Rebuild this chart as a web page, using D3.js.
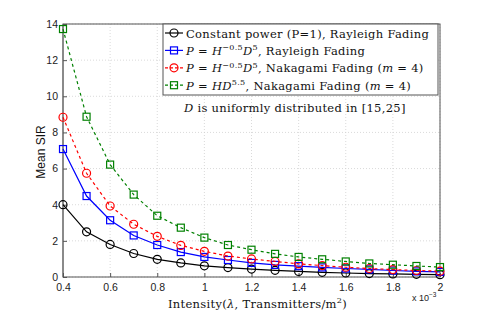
<!DOCTYPE html>
<html>
<head>
<meta charset="utf-8">
<script src="https://cdn.jsdelivr.net/npm/d3@7"></script>
<style>
  body { margin: 0; background: #fff; }
  svg { display: block; }
</style>
</head>
<body>
<div id="chart"></div>
<script>
(function() {

  // intensity values (x 10^-3)
  const intensity = [0.4, 0.5, 0.6, 0.7, 0.8, 0.9, 1.0, 1.1, 1.2, 1.3, 1.4, 1.5, 1.6, 1.7, 1.8, 1.9, 2.0];

  const constPower = [4.0, 2.5, 1.8, 1.3, 0.98, 0.78, 0.62, 0.52, 0.44, 0.37, 0.31, 0.26, 0.22, 0.19, 0.17, 0.15, 0.13];
  const rayleighH = [7.08, 4.48, 3.14, 2.3, 1.77, 1.38, 1.11, 0.94, 0.78, 0.67, 0.6, 0.53, 0.47, 0.42, 0.36, 0.31, 0.28];
  const nakagamiH = [8.84, 5.74, 3.93, 2.92, 2.25, 1.75, 1.42, 1.16, 1.0, 0.86, 0.73, 0.63, 0.54, 0.47, 0.41, 0.36, 0.32];
  const nakagamiHD = [13.72, 8.87, 6.22, 4.56, 3.39, 2.73, 2.18, 1.77, 1.51, 1.28, 1.11, 0.98, 0.86, 0.75, 0.68, 0.61, 0.55];

  const xTicks = [0.4, 0.6, 0.8, 1, 1.2, 1.4, 1.6, 1.8, 2];
  const yTicks = [0, 2, 4, 6, 8, 10, 12, 14];

  const series = [
    { name: 'const', values: constPower, color: '#000000', dash: null, marker: 'circle' },
    { name: 'rayH', values: rayleighH, color: '#0000ff', dash: null, marker: 'square' },
    { name: 'nakH', values: nakagamiH, color: '#ff0000', dash: '3,3', marker: 'circle' },
    { name: 'nakHD', values: nakagamiHD, color: '#008000', dash: '3,3', marker: 'square' }
  ];

  const width = 485, height = 312;
  const plot = { left: 63, right: 440, top: 24, bottom: 277 };

  const svg = d3.select('#chart').append('svg')
    .attr('width', width)
    .attr('height', height);

  const xScale = d3.scaleLinear().domain([0.4, 2]).range([plot.left, plot.right]);
  const yScale = d3.scaleLinear().domain([0, 14]).range([plot.bottom, plot.top]);

  // grid
  const grid = svg.append('g');
  xTicks.forEach(t => {
    grid.append('line')
      .attr('x1', xScale(t)).attr('x2', xScale(t))
      .attr('y1', plot.top).attr('y2', plot.bottom)
      .attr('stroke', '#d0d0d0').attr('stroke-width', 0.8)
      .attr('stroke-dasharray', '1,2');
  });
  yTicks.forEach(t => {
    grid.append('line')
      .attr('x1', plot.left).attr('x2', plot.right)
      .attr('y1', yScale(t)).attr('y2', yScale(t))
      .attr('stroke', '#d0d0d0').attr('stroke-width', 0.8)
      .attr('stroke-dasharray', '1,2');
  });

  // frame
  svg.append('rect')
    .attr('x', plot.left).attr('y', plot.top)
    .attr('width', plot.right - plot.left).attr('height', plot.bottom - plot.top)
    .attr('fill', 'none').attr('stroke', '#555').attr('stroke-width', 1);
  svg.append('line')
    .attr('x1', plot.left).attr('x2', plot.left)
    .attr('y1', plot.top).attr('y2', plot.bottom)
    .attr('stroke', '#8a8a8a').attr('stroke-width', 2);

  // axes (ticks inside)
  const xAxis = svg.append('g')
    .attr('transform', `translate(0, ${plot.bottom})`)
    .call(d3.axisBottom(xScale).tickValues(xTicks).tickSize(-4).tickPadding(7)
      .tickFormat(d => d3.format('')(Math.round(d * 10) / 10)));
  const yAxis = svg.append('g')
    .attr('transform', `translate(${plot.left}, 0)`)
    .call(d3.axisLeft(yScale).tickValues(yTicks).tickSize(-4).tickPadding(5));
  [xAxis, yAxis].forEach(a => {
    a.select('.domain').remove();
    a.selectAll('.tick line').attr('stroke', '#555');
    a.selectAll('text')
      .attr('font-family', 'Liberation Sans, Arial, sans-serif')
      .attr('font-size', 10.5)
      .attr('fill', '#222');
  });

  // lines
  const line = d3.line()
    .x((d, i) => xScale(intensity[i]))
    .y(d => yScale(d));

  function drawMarker(g, kind, x, y, color) {
    if (kind === 'circle') {
      g.append('circle')
        .attr('cx', x).attr('cy', y).attr('r', 4)
        .attr('fill', 'none').attr('stroke', color).attr('stroke-width', 1.2);
    } else {
      g.append('rect')
        .attr('x', x - 3.5).attr('y', y - 3.5)
        .attr('width', 7).attr('height', 7)
        .attr('fill', 'none').attr('stroke', color).attr('stroke-width', 1.2);
    }
  }

  series.forEach(s => {
    const g = svg.append('g');
    g.append('path')
      .datum(s.values)
      .attr('d', line)
      .attr('fill', 'none')
      .attr('stroke', s.color)
      .attr('stroke-width', 1.2)
      .attr('stroke-dasharray', s.dash);
    s.values.forEach((v, i) => drawMarker(g, s.marker, xScale(intensity[i]), yScale(v), s.color));
  });

  // legend
  const legend = svg.append('g');
  legend.append('rect')
    .attr('x', 163).attr('y', plot.top)
    .attr('width', 275).attr('height', 71)
    .attr('fill', '#fff').attr('stroke', '#555').attr('stroke-width', 1);

  const legendRows = [
    [{ t: 'Constant power (P=1), Rayleigh Fading' }],
    [{ t: 'P', i: true }, { t: ' = ' }, { t: 'H', i: true }, { t: '−0.5', sup: true }, { t: 'D', i: true }, { t: '5', sup: true }, { t: ', Rayleigh Fading' }],
    [{ t: 'P', i: true }, { t: ' = ' }, { t: 'H', i: true }, { t: '−0.5', sup: true }, { t: 'D', i: true }, { t: '5', sup: true }, { t: ', Nakagami Fading (' }, { t: 'm', i: true }, { t: ' = 4)' }],
    [{ t: 'P', i: true }, { t: ' = ' }, { t: 'HD', i: true }, { t: '5.5', sup: true }, { t: ', Nakagami Fading (' }, { t: 'm', i: true }, { t: ' = 4)' }]
  ];

  function richText(parent, parts, x, y, size) {
    const text = parent.append('text')
      .attr('x', x).attr('y', y)
      .attr('font-family', 'DejaVu Serif, serif')
      .attr('font-size', size)
      .attr('letter-spacing', 0.3)
      .attr('fill', '#111');
    let prevSup = false;
    parts.forEach(p => {
      const ts = text.append('tspan').text(p.t);
      if (p.i) ts.attr('font-style', 'italic');
      if (p.sup) {
        ts.attr('font-size', size * 0.7);
        if (!prevSup) ts.attr('dy', -size * 0.4);
      } else if (prevSup) {
        ts.attr('dy', size * 0.4);
      }
      prevSup = !!p.sup;
    });
    return text;
  }

  series.forEach((s, i) => {
    const y = 33 + i * 17.4;
    legend.append('line')
      .attr('x1', 165).attr('x2', 183)
      .attr('y1', y).attr('y2', y)
      .attr('stroke', s.color).attr('stroke-width', 1.2)
      .attr('stroke-dasharray', s.dash ? '3,2' : null);
    drawMarker(legend, s.marker, 174, y, s.color);
    richText(legend, legendRows[i], 186, y + 4.5, 11.5);
  });

  // annotation
  richText(svg, [{ t: 'D', i: true }, { t: ' is uniformly distributed in [15,25]' }], 184, 112, 11.5);

  // axis labels
  richText(svg, [{ t: 'Intensity(' }, { t: 'λ', i: true }, { t: ', Transmitters/m' }, { t: '2', sup: true }, { t: ')' }], 168, 308, 11.5);

  svg.append('text')
    .attr('transform', `translate(45, 152) rotate(-90)`)
    .attr('text-anchor', 'middle')
    .attr('font-family', 'Liberation Sans, Arial, sans-serif')
    .attr('font-size', 12)
    .attr('fill', '#111')
    .text('Mean SIR');

  const mult = svg.append('text')
    .attr('x', 412).attr('y', 301)
    .attr('font-family', 'Liberation Sans, Arial, sans-serif')
    .attr('font-size', 9)
    .attr('fill', '#222');
  mult.append('tspan').text('x 10');
  mult.append('tspan').text('−3').attr('font-size', 6.5).attr('dy', -4);

}());
</script>
</body>
</html>
